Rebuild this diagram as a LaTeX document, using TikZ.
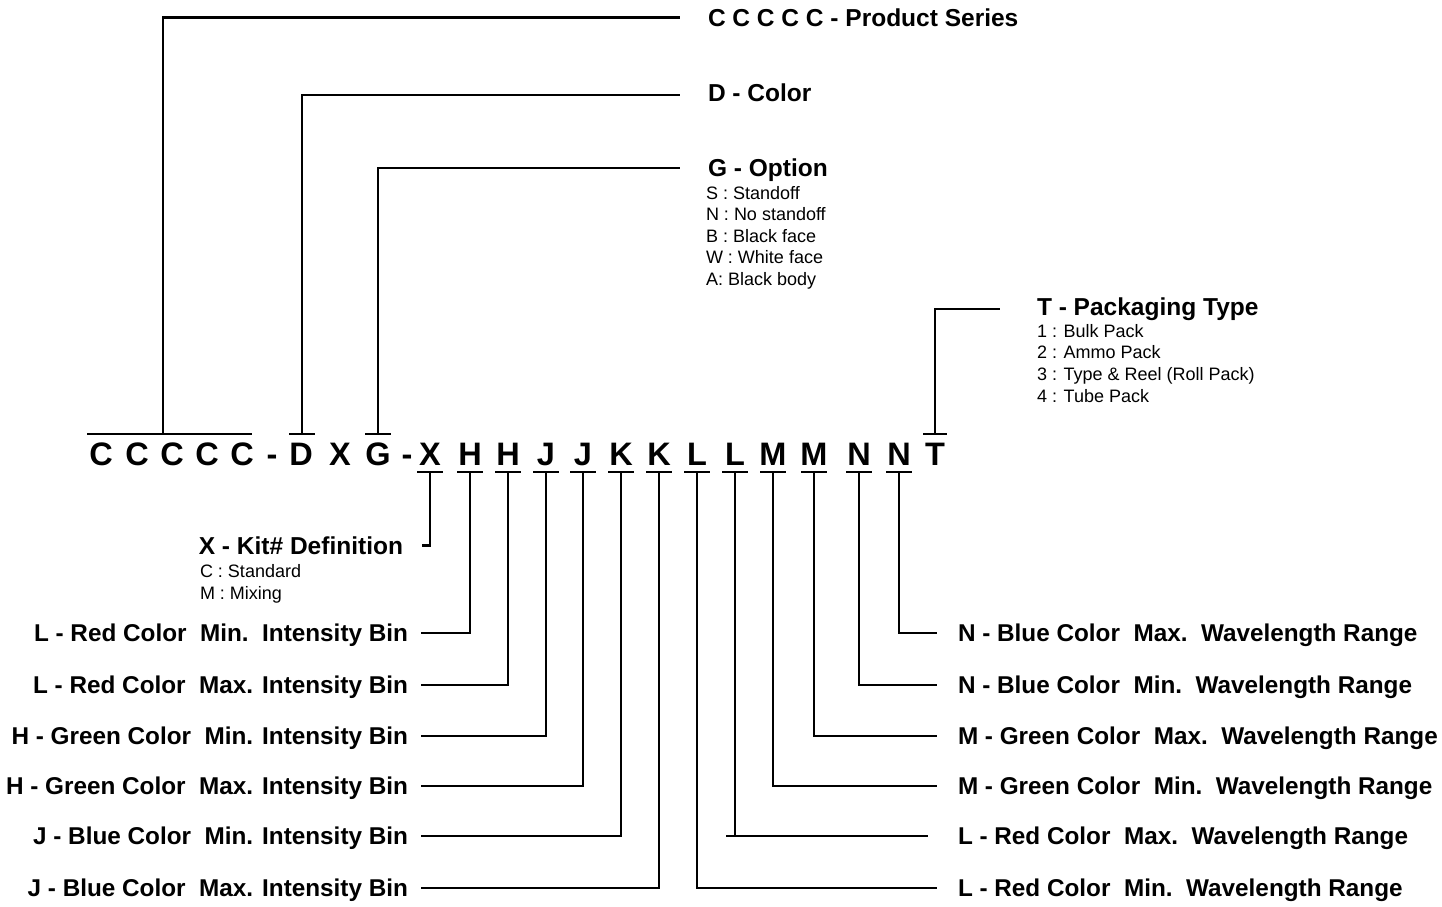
\documentclass[tikz,border=0pt]{standalone}
\usepackage{fontspec}
\setmainfont{Liberation Sans}
\usetikzlibrary{calc}
\begin{document}
\begin{tikzpicture}[x=1pt,y=-1pt,
  conn/.style={line width=2.5pt},
  letter/.style={font=\fontsize{32.5}{32.5}\selectfont\bfseries, inner sep=0pt, outer sep=0pt, anchor=base},
  rowlbl/.style={font=\fontsize{24.3}{24.3}\selectfont\bfseries, inner sep=0pt, outer sep=0pt},
  titlelbl/.style={font=\fontsize{24.5}{24.5}\selectfont\bfseries, inner sep=0pt, outer sep=0pt, anchor=base west},
  sublbl/.style={font=\fontsize{18}{18}\selectfont, inner sep=0pt, outer sep=0pt, anchor=base west},
]
\useasboundingbox (0,0) rectangle (1442,906);

% code letters
\foreach \n/\x/\t in {c1/101/C, c2/137/C, c3/172/C, c4/207/C, c5/242/C, dsh1/272/-, d/301/D, xa/340/X, g/378/G, dsh2/407/-,
  x/430/X, h1/470/H, h2/508/H, j1/546/J, j2/583/J, k1/621/K, k2/659/K, l1/697/L, l2/735/L, m1/773/M, m2/814/M, n1/859/N, n2/899/N, t/935/T}
  \node[letter] (\n) at (\x,465) {\t};

% overbars
\coordinate (cB) at (163,434);
\draw[conn] (87,434) -- (252,434);
\coordinate (dB) at ($(d.base)+(1,-31)$);
\draw[conn] ($(dB)+(-13,0)$) -- ++(26,0);
\coordinate (gB) at ($(g.base)+(0,-31)$);
\draw[conn] ($(gB)+(-13,0)$) -- ++(26,0);
\coordinate (tB) at ($(t.base)+(0,-31)$);
\draw[conn] ($(tB)+(-12,0)$) -- ++(24,0);

% underbars
\foreach \n in {x,h1,h2,j1,j2,k1,k2,l1,l2,m1,m2,n1,n2}{
  \coordinate (\n B) at ($(\n.base)+(0,7)$);
  \draw[conn] ($(\n B)+(-13,0)$) -- ++(26,0);
}

% top titles
\node[titlelbl] (ps) at (708,26) {C C C C C - Product Series};
\node[titlelbl] (dc) at (708,101) {D - Color};
\node[titlelbl] (go) at (708,176) {G - Option};
\foreach \t [count=\i] in {S : Standoff, N : No standoff, B : Black face, W : White face, A: Black body}
  \node[sublbl] (gs\i) at (706,{199+21.5*(\i-1)}) {\t};
\node[titlelbl] (tp) at (1037,315) {T - Packaging Type};
\foreach \t [count=\i] in {1 : Bulk Pack, 2 : Ammo Pack, 3 : Type \& Reel (Roll Pack), 4 : Tube Pack}
  \node[sublbl] (ts\i) at (1037,{337+21.7*(\i-1)}) {\t};

\draw[conn] (cB) |- ($(ps.base west)+(-28,-8.5)$);
\draw[conn] (dB) |- ($(dc.base west)+(-28,-6)$);
\draw[conn] (gB) |- ($(go.base west)+(-28,-8)$);
\draw[conn] (tB) |- ($(tp.base west)+(-37,-6)$);

% X kit
\node[titlelbl, anchor=base east] (xk) at (403,554) {X - Kit\# Definition};
\node[sublbl] (xs1) at (200,577) {C : Standard};
\node[sublbl] (xs2) at (200,599) {M : Mixing};
\draw[conn] (xB) |- ($(xk.base east)+(19,-8.5)$);

% left rows
\foreach \n/\y/\t [count=\i] in {h1/633/{L - Red Color\ \ Min.\ \ Intensity Bin},
  h2/685/{L - Red Color\ \ Max. Intensity Bin},
  j1/736/{H - Green Color\ \ Min. Intensity Bin},
  j2/786/{H - Green Color\ \ Max. Intensity Bin},
  k1/836/{J - Blue Color\ \ Min. Intensity Bin},
  k2/888/{J - Blue Color\ \ Max. Intensity Bin}}{
  \node[rowlbl, anchor=base east] (lr\i) at (408,\y+8.5) {\t};
  \draw[conn] (\n B) |- ($(lr\i.base east)+(13,-8.5)$);
}

% right rows
\foreach \n/\y/\t [count=\i] in {n2/633/{N - Blue Color\ \ Max.\ \ Wavelength Range},
  n1/685/{N - Blue Color\ \ Min.\ \ Wavelength Range},
  m2/736/{M - Green Color\ \ Max.\ \ Wavelength Range},
  m1/786/{M - Green Color\ \ Min.\ \ Wavelength Range},
  l1/888/{L - Red Color\ \ Min.\ \ Wavelength Range}}{
  \node[rowlbl, anchor=base west] (rr\i) at (958,\y+8.5) {\t};
  \draw[conn] (\n B) |- ($(rr\i.base west)+(-21,-8.5)$);
}
\node[rowlbl, anchor=base west] (rr6) at (958,844.5) {L - Red Color\ \ Max.\ \ Wavelength Range};
\coordinate (lk) at (l2B |- 0,836);
\draw[conn] (l2B) -- (lk);
\draw[conn] ($(lk)+(-9,0)$) -- ($(rr6.base west)+(-30,-8.5)$);
\end{tikzpicture}
\end{document}
